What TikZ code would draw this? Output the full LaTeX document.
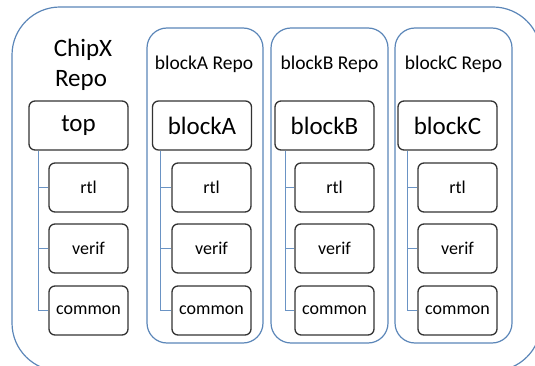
\documentclass[tikz,border=0pt]{standalone}
\usepackage{fontspec}
\setmainfont{Carlito}
\definecolor{repoblue}{HTML}{5B86B8}
\definecolor{linkblue}{HTML}{6A93C4}
\definecolor{boxgray}{HTML}{333333}
\tikzset{
  outerbox/.style={draw=repoblue, line width=1.2pt, rounded corners=48pt, inner sep=0pt},
  repobox/.style={draw=repoblue, line width=1.2pt, rounded corners=20pt, inner sep=0pt},
  mainbox/.style={draw=boxgray, line width=1.3pt, rounded corners=6pt, inner sep=0pt,
    minimum width=99pt, minimum height=49pt, font=\fontsize{25}{30}\selectfont},
  subbox/.style={draw=boxgray, line width=1.3pt, rounded corners=6pt, inner sep=0pt,
    minimum width=79pt, minimum height=49pt, font=\fontsize{18}{22}\selectfont},
  repolabel/.style={anchor=base, inner sep=0pt, font=\fontsize{19.5}{24}\selectfont},
  conn/.style={draw=linkblue, line width=1.2pt}
}
\begin{document}
\begin{tikzpicture}[x=1pt,y=-1pt]
\useasboundingbox (0,0) rectangle (535,366);
\begin{scope}
\clip (0,0) rectangle (535,366);
\node[outerbox, minimum width=529pt, minimum height=364pt] (chipx) at (276.5,189) {};
\end{scope}
% ChipX label
\node[anchor=base, inner sep=0pt, font=\fontsize{25}{30}\selectfont] (chipxl1) at (83,57) {ChipX};
\node[anchor=base, inner sep=0pt, font=\fontsize{25}{30}\selectfont] (chipxl2) at (81,87) {Repo};
% repo boxes
\node[repobox, minimum width=116pt, minimum height=315pt] (repoA) at (205,185.5) {};
\node[repobox, minimum width=117pt, minimum height=315pt] (repoB) at (329.5,185.5) {};
\node[repobox, minimum width=117pt, minimum height=315pt] (repoC) at (453.5,185.5) {};
\node[repolabel] (labA) at (204,70) {blockA Repo};
\node[repolabel] (labB) at (329.5,70) {blockB Repo};
\node[repolabel] (labC) at (453.5,70) {blockC Repo};
% main boxes
\node[mainbox] (top) at (78.5,125.5) {top};
\node[mainbox] (blockA) at (202,125.5) {blockA};
\node[mainbox] (blockB) at (324.5,125.5) {blockB};
\node[mainbox] (blockC) at (447.5,125.5) {blockC};
% children
\foreach \p/\x in {T/88.5, A/211.5, B/334.5, C/457.5}{
  \node[subbox] (rtl\p) at (\x,187.5) {rtl};
  \node[subbox] (verif\p) at (\x,248.5) {verif};
  \node[subbox] (common\p) at (\x,310.5) {common};
}
% connectors
\foreach \m/\p/\s in {top/T/10, blockA/A/9, blockB/B/11, blockC/C/10}{
  \draw[conn] ([xshift=\s pt]\m.south west) |- (common\p.west);
  \draw[conn] ([xshift=\s pt]\m.south west) |- (rtl\p.west);
  \draw[conn] ([xshift=\s pt]\m.south west) |- (verif\p.west);
}
\end{tikzpicture}
\end{document}
